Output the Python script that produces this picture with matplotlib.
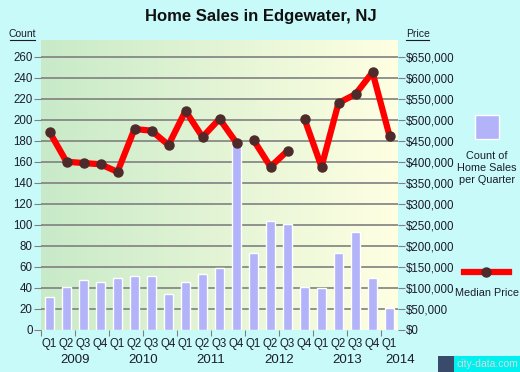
import numpy as np
import matplotlib
matplotlib.use("Agg")
import matplotlib.pyplot as plt
from matplotlib.ticker import FuncFormatter

plt.rcParams['font.family'] = ['Liberation Sans', 'DejaVu Sans']

# data
quarters = ['Q1', 'Q2', 'Q3', 'Q4'] * 5 + ['Q1']
years = ['2009', '2010', '2011', '2012', '2013', '2014']
counts = [31, 41, 47, 45, 49, 51, 51, 34, 45, 53, 59, 176,
          73, 104, 101, 41, 40, 73, 93, 49, 21]
# median price, split where the line is broken
price_runs = [
    (0, [471000, 400000, 397000, 394000, 376000, 478000, 474000, 440000,
         521000, 459000, 502000, 445000]),
    (12, [452000, 388000, 426000]),
    (15, [502000, 388000, 540000, 561000, 613000, 462000]),
]
count_ticks = list(range(0, 261, 20))

BG = '#c8fafa'
BAR = '#b3b3f9'
LINE = '#ff0000'
DOT = '#4e2a2a'
TXT = '#1c1c2c'

fig = plt.figure(figsize=(5.2, 3.72), dpi=100, facecolor=BG)
ax = fig.add_axes([41 / 520, 1 - 329.7 / 372, 357 / 520, (329.7 - 40) / 372])
ymax = 276
ax.set_xlim(-0.5, 20.5)
ax.set_ylim(0, ymax)

# horizontal gradient background, green to light yellow
grad = np.linspace(0, 1, 256)
c0 = np.array([200, 234, 200]) / 255
c1 = np.array([255, 255, 226]) / 255
img = c0[None, :] * (1 - grad[:, None]) + c1[None, :] * grad[:, None]
ax.imshow(img[None, :, :], extent=[-0.5, 20.5, 0, ymax], aspect='auto', zorder=0)

for y in count_ticks[1:]:
    ax.axhline(y, color='#808080', lw=1.2, zorder=1)

x = np.arange(len(counts))
ax.bar(x, counts, width=0.55, color=BAR, edgecolor='white', lw=1, zorder=2)

ax2 = ax.twinx()
ax2.set_ylim(0, ymax * 2500)
for start, vals in price_runs:
    xs = np.arange(start, start + len(vals))
    ax2.plot(xs, vals, color=LINE, lw=4.5, solid_capstyle='butt', zorder=3)
    ax2.plot(xs, vals, 'o', color=DOT, ms=6.5, zorder=4)

for a in (ax, ax2):
    for s in a.spines.values():
        s.set_visible(False)

ax.set_yticks(count_ticks)
ax.tick_params(axis='y', length=5, color='#808080', labelsize=8.3, labelcolor=TXT, pad=1)
ax2.set_yticks([c * 2500 for c in count_ticks])
ax2.yaxis.set_major_formatter(FuncFormatter(lambda v, p: '${:,.0f}'.format(v)))
ax2.tick_params(axis='y', length=5, color='#808080', labelsize=8.3, labelcolor=TXT, pad=1)

# x axis: ticks every half year, quarter labels below
ax.set_xticks(np.arange(-0.5, 20.6, 2))
ax.set_xticklabels([])
ax.tick_params(axis='x', length=4, color='#808080')
for i, q in enumerate(quarters):
    ax.text(i, -8, q, ha='center', va='top', fontsize=8.3, color=TXT, clip_on=False)
for k, yr in enumerate(years):
    pos = x[k * 4:k * 4 + 4]
    xc = pos.mean() if len(pos) > 1 else pos[0] + 0.6
    ax.text(xc, -23, yr, ha='center', va='top', fontsize=9.5, color=TXT, clip_on=False)

fig.text(261 / 520, 1 - 16 / 372, 'Home Sales in Edgewater, NJ', ha='center', va='center',
         fontsize=12, fontweight='bold', color='#111111')
fig.text(22 / 520, 1 - 34 / 372, 'Count', ha='center', va='center', fontsize=7.5, color=TXT)
fig.add_artist(plt.Line2D([10 / 520, 35 / 520], [1 - 40 / 372] * 2, color=TXT, lw=0.8))
fig.text(418 / 520, 1 - 34 / 372, 'Price', ha='center', va='center', fontsize=7.5, color=TXT)
fig.add_artist(plt.Line2D([406 / 520, 429 / 520], [1 - 40 / 372] * 2, color=TXT, lw=0.8))

# legend
fig.add_artist(plt.Rectangle((475 / 520, 1 - 139 / 372), 24 / 520, 24 / 372,
                             facecolor=BAR, edgecolor='white', lw=1))
fig.text(487 / 520, 1 - 168 / 372, 'Count of\nHome Sales\nper Quarter', ha='center',
         va='center', fontsize=7.8, color=TXT, linespacing=1.25)
fig.add_artist(plt.Line2D([464 / 520, 509 / 520], [1 - 272 / 372] * 2, color=LINE, lw=4.5))
fig.add_artist(plt.Line2D([486 / 520], [1 - 272 / 372], marker='o', color=DOT, ms=6.5))
fig.text(487 / 520, 1 - 293 / 372, 'Median Price', ha='center', va='center',
         fontsize=7.8, color=TXT)

# city-data logo
fig.add_artist(plt.Rectangle((438 / 520, 0), 16 / 520, 16 / 372, facecolor='#3a4a6a',
                             edgecolor='none', zorder=1))
fig.add_artist(plt.Rectangle((454 / 520, 0), 66 / 520, 16 / 372, facecolor='#00f0f0',
                             edgecolor='none', zorder=1))
fig.text(487 / 520, 1 - 364 / 372, 'city-data.com', ha='center', va='center', fontsize=7.5,
         color='#d8d8d8', zorder=5)

fig.savefig('out.png', dpi=100, facecolor=BG)
